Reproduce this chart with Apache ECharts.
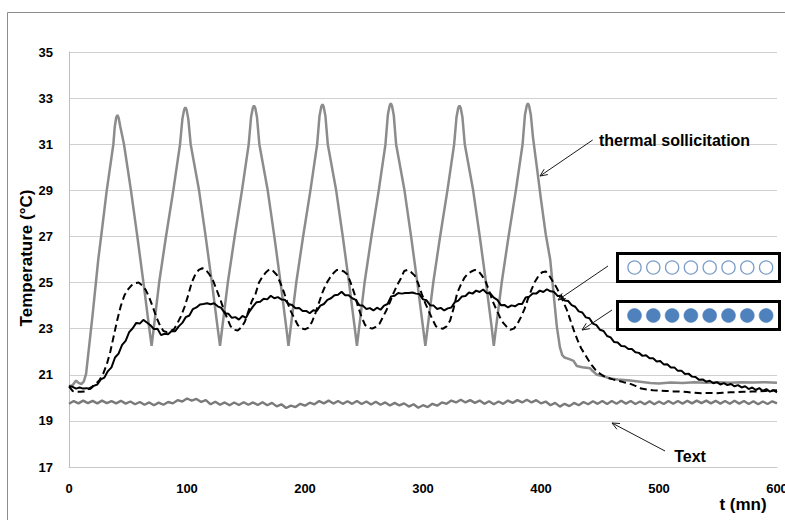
<!DOCTYPE html>
<html lang="en">
<head>
<meta charset="utf-8">
<title>Temperature</title>
<style>
    html, body { margin: 0; padding: 0; background: #fff; }
    #main { width: 785px; height: 520px; }
</style>
</head>
<body>
<div id="main"></div>
<script src="https://cdn.jsdelivr.net/npm/echarts@6/dist/echarts.min.js"></script>
<script>
var log = console.log.bind(console)

// [t (mn), temperature (°C)]
var thermal = [
    [0, 20.5], [3, 20.55], [6, 20.75], [8, 20.65], [10.5, 20.6], [12.5, 20.7], [14.5, 21.05], [20, 23.6],
    [24.8, 26], [27, 26.9], [32, 29], [37.6, 31], [38.8, 31.76], [40, 32.16], [41, 32.26], [42, 32.16], [43.5, 31.76], [46.6, 31],
    [52.5, 29], [57.9, 27], [63.1, 25], [67.8, 23.1], [70, 22.25],
    [71.3, 22.8], [76.4, 25], [82.2, 27], [88.4, 29], [94.1, 31], [96.1, 32.1], [97.6, 32.5], [98.6, 32.6], [99.6, 32.5], [101.1, 32.1],
    [103.1, 31], [110.2, 29], [115.8, 27], [121.1, 25], [125.8, 23.1], [128, 22.25],
    [129.3, 22.8], [134.6, 25], [140.4, 27], [146.6, 29], [152.3, 31], [154.3, 32.18], [155.8, 32.58], [156.8, 32.68], [157.8, 32.58], [159.3, 32.18],
    [161.3, 31], [168.4, 29], [174, 27], [179.3, 25], [184, 23.1], [186, 22.25],
    [187.3, 22.8], [192.6, 25], [198.4, 27], [204.6, 29], [210.3, 31], [212.3, 32.23], [213.8, 32.63], [214.8, 32.73], [215.8, 32.63], [217.3, 32.23],
    [219.3, 31], [226.4, 29], [232, 27], [237.3, 25], [242, 23.1], [244, 22.25],
    [245.3, 22.8], [250.5, 25], [256.3, 27], [262.5, 29], [268.2, 31], [270.2, 32.27], [271.7, 32.67], [272.7, 32.77], [273.7, 32.67], [275.2, 32.27],
    [277.2, 31], [284.3, 29], [289.9, 27], [295.2, 25], [299.9, 23.1], [302, 22.25],
    [303.3, 22.8], [308.7, 25], [314.5, 27], [320.7, 29], [326.4, 31], [328.4, 32.18], [329.9, 32.58], [330.9, 32.68], [331.9, 32.58], [333.4, 32.18],
    [335.4, 31], [342.5, 29], [348.1, 27], [353.4, 25], [358.1, 23.1], [360, 22.25],
    [361.3, 22.8], [366.7, 25], [372.5, 27], [378.7, 29], [384.4, 31], [386.4, 32.27], [387.9, 32.67], [388.9, 32.77], [389.9, 32.67], [391.4, 32.27],
    [393.2, 31.3], [396, 30.2], [400, 28.6], [404, 27.1], [407.8, 26], [410.5, 24.6], [413.4, 23.1], [416, 22.2],
    [418, 21.85], [420, 21.75], [424, 21.68], [427.6, 21.6], [430.4, 21.38], [435, 21.33], [441.7, 21.28], [444, 21.15],
    [447.4, 21.0], [452, 20.95], [458.7, 20.84], [465, 20.8], [475.6, 20.75], [484, 20.7], [492.6, 20.64], [500, 20.62],
    [510, 20.66], [520, 20.64], [530, 20.68], [540, 20.65], [550, 20.68], [560, 20.65], [570, 20.68], [580, 20.66],
    [590, 20.68], [600, 20.65]
]

// open circles (solid line)
var openCircles = [
    [0, 20.5], [3, 20.48], [6, 20.4], [9, 20.45], [12, 20.4], [15, 20.42], [18, 20.38], [21, 20.52],
    [24, 20.58], [27, 20.8], [30, 20.88], [33, 21.16], [36, 21.32], [39, 21.75], [42, 21.92], [45, 22.3],
    [48, 22.47], [51, 22.85], [54, 23.02], [57, 23.25], [60, 23.22], [63, 23.38], [66, 23.27], [69, 23.15],
    [72, 22.98], [75, 23.0], [78, 22.72], [81, 22.78], [84, 22.76], [87, 22.9], [90, 22.89], [93, 23.1],
    [96, 23.25], [99, 23.5], [102, 23.57], [105, 23.85], [108, 23.92], [111, 24.05], [114, 24.07], [117, 24.1],
    [120, 24.06], [123, 24.1], [126, 23.97], [129, 23.9], [132, 23.67], [135, 23.65], [138, 23.47], [141, 23.5],
    [144, 23.39], [147, 23.55], [150, 23.47], [153, 23.75], [156, 23.97], [159, 24.15], [162, 24.17], [165, 24.3],
    [168, 24.27], [171, 24.43], [174, 24.32], [177, 24.37], [180, 24.27], [183, 24.25], [186, 24.07], [189, 24.03],
    [192, 23.89], [195, 23.9], [198, 23.77], [201, 23.77], [204, 23.67], [207, 23.8], [210, 23.77], [213, 24.0],
    [216, 24.07], [219, 24.25], [222, 24.32], [225, 24.45], [228, 24.47], [231, 24.6], [234, 24.45], [237, 24.45],
    [240, 24.32], [243, 24.25], [246, 24.02], [249, 24.0], [252, 23.85], [255, 23.89], [258, 23.79], [261, 23.91],
    [264, 23.82], [267, 24.0], [270, 24.07], [273, 24.4], [276, 24.43], [279, 24.55], [282, 24.52], [285, 24.55],
    [288, 24.55], [291, 24.57], [294, 24.52], [297, 24.5], [300, 24.27], [303, 24.23], [306, 24.02], [309, 24.0],
    [312, 23.85], [315, 23.9], [318, 23.79], [321, 23.88], [324, 23.92], [327, 24.15], [330, 24.22], [333, 24.4],
    [336, 24.42], [339, 24.57], [342, 24.52], [345, 24.65], [348, 24.59], [351, 24.7], [354, 24.55], [357, 24.53],
    [360, 24.35], [363, 24.25], [366, 24.02], [369, 24.03], [372, 23.92], [375, 24.01], [378, 23.97], [381, 24.07],
    [384, 24.07], [387, 24.35], [390, 24.39], [393, 24.53], [396, 24.52], [399, 24.65], [402, 24.59], [405, 24.71],
    [408, 24.62], [411, 24.6], [414, 24.42], [417, 24.43], [420, 24.22], [423, 24.2], [426, 24.02], [429, 23.95],
    [432, 23.75], [435, 23.7], [438, 23.49], [441, 23.45], [444, 23.22], [447, 23.15], [450, 22.95], [453, 22.9],
    [456, 22.68], [459, 22.62], [462, 22.42], [465, 22.4], [468, 22.25], [471, 22.24], [474, 22.12], [477, 22.12],
    [480, 21.98], [483, 21.95], [486, 21.82], [489, 21.85], [492, 21.72], [495, 21.72], [498, 21.58], [501, 21.6],
    [504, 21.45], [507, 21.46], [510, 21.32], [513, 21.32], [516, 21.17], [519, 21.18], [522, 21.03], [525, 21.05],
    [528, 20.92], [531, 20.9], [534, 20.78], [537, 20.8], [540, 20.7], [543, 20.74], [546, 20.63], [549, 20.68],
    [552, 20.58], [555, 20.64], [558, 20.55], [561, 20.6], [564, 20.5], [567, 20.55], [570, 20.45], [573, 20.5],
    [576, 20.38], [579, 20.45], [582, 20.34], [585, 20.42], [588, 20.3], [591, 20.38], [594, 20.27], [597, 20.33],
    [600, 20.24]
]

// filled circles (dashed line)
var filledCircles = [
    [0, 20.5], [3, 20.3], [6, 20.27], [10, 20.26], [14, 20.28], [17, 20.4], [20, 20.5], [23, 20.62],
    [26, 20.78], [29, 21.05], [32, 21.45], [35, 22.0], [38, 22.7], [41, 23.4], [44, 24.0], [47, 24.45],
    [50, 24.7], [53, 24.88], [56, 24.98], [59, 25.0], [62, 24.88], [65, 24.68], [68, 24.35], [71, 23.95],
    [74, 23.5], [77, 23.15], [80, 22.9], [83, 22.85], [86, 22.9], [89, 22.98], [92, 23.25], [95, 23.55],
    [98, 23.95], [101, 24.45], [104, 25.0], [107, 25.35], [110, 25.55], [113, 25.62], [116, 25.55], [119, 25.35],
    [122, 25.1], [125, 24.7], [128, 24.3], [131, 23.85], [134, 23.45], [137, 23.1], [140, 22.95], [143, 22.92],
    [146, 23.05], [149, 23.3], [152, 23.75], [155, 24.2], [158, 24.5], [161, 25.0], [164, 25.26], [167, 25.45],
    [170, 25.58], [173, 25.5], [176, 25.34], [179, 25.0], [182, 24.6], [185, 24.15], [188, 23.75], [191, 23.45],
    [194, 23.15], [197, 23.02], [200, 22.97], [203, 23.05], [206, 23.3], [209, 23.7], [212, 24.15], [215, 24.6],
    [218, 24.95], [221, 25.2], [224, 25.4], [227, 25.55], [230, 25.55], [233, 25.48], [236, 25.35], [239, 24.95],
    [242, 24.5], [245, 23.95], [248, 23.5], [251, 23.15], [254, 23.05], [257, 23.0], [260, 23.08], [263, 23.2],
    [266, 23.5], [269, 23.8], [272, 24.15], [275, 24.54], [278, 24.88], [281, 25.15], [284, 25.5], [287, 25.55],
    [290, 25.45], [293, 25.3], [296, 24.95], [299, 24.5], [302, 24.1], [305, 23.75], [308, 23.4], [311, 23.1],
    [314, 23.02], [317, 23.0], [320, 23.1], [323, 23.35], [326, 23.9], [329, 24.55], [332, 24.9], [335, 25.2],
    [338, 25.38], [341, 25.48], [344, 25.55], [347, 25.5], [350, 25.3], [353, 25.05], [356, 24.65], [359, 24.2],
    [362, 23.85], [365, 23.52], [368, 23.25], [371, 23.08], [374, 22.95], [377, 23.0], [380, 23.2], [383, 23.5],
    [386, 23.85], [389, 24.3], [392, 24.7], [395, 25.05], [398, 25.3], [401, 25.45], [404, 25.48], [407, 25.3],
    [410, 25.05], [413, 24.8], [416, 24.5], [419, 24.15], [422, 23.8], [425, 23.35], [428, 22.9], [431, 22.5],
    [434, 22.15], [437, 21.9], [440, 21.65], [443, 21.42], [446, 21.22], [449, 21.08], [452, 20.98], [455, 20.9],
    [458, 20.85], [461, 20.8], [465, 20.75], [470, 20.68], [475, 20.62], [480, 20.52], [485, 20.4], [490, 20.36],
    [495, 20.33], [500, 20.32], [506, 20.3], [512, 20.28], [518, 20.27], [524, 20.25], [530, 20.22], [536, 20.2],
    [542, 20.21], [548, 20.2], [554, 20.22], [560, 20.24], [566, 20.25], [572, 20.26], [578, 20.27], [584, 20.28],
    [590, 20.3], [596, 20.32], [600, 20.33]
]

// "Text" series, one reading every 4 mn
var textStep = 4
var textTemp = [
    19.74, 19.86, 19.76, 19.88, 19.77, 19.87, 19.76, 19.88, 19.77, 19.86,
    19.76, 19.87, 19.75, 19.84, 19.72, 19.82, 19.70, 19.80, 19.68, 19.79,
    19.70, 19.82, 19.76, 19.90, 19.84, 19.97, 19.88, 19.95, 19.82, 19.90,
    19.72, 19.83, 19.70, 19.80, 19.68, 19.80, 19.69, 19.81, 19.70, 19.80,
    19.69, 19.81, 19.68, 19.78, 19.63, 19.72, 19.56, 19.66, 19.60, 19.74,
    19.66, 19.79, 19.72, 19.86, 19.76, 19.88, 19.75, 19.86, 19.74, 19.85,
    19.74, 19.86, 19.73, 19.84, 19.71, 19.83, 19.70, 19.80, 19.67, 19.78,
    19.67, 19.76, 19.62, 19.72, 19.57, 19.68, 19.60, 19.74, 19.66, 19.80,
    19.74, 19.88, 19.80, 19.92, 19.80, 19.90, 19.78, 19.88, 19.74, 19.85,
    19.72, 19.84, 19.74, 19.88, 19.78, 19.90, 19.80, 19.92, 19.80, 19.90,
    19.76, 19.84, 19.68, 19.78, 19.62, 19.74, 19.64, 19.78, 19.68, 19.82,
    19.72, 19.85, 19.74, 19.86, 19.73, 19.86, 19.74, 19.87, 19.75, 19.86,
    19.73, 19.84, 19.72, 19.85, 19.72, 19.84, 19.73, 19.86, 19.74, 19.86,
    19.75, 19.87, 19.76, 19.88, 19.77, 19.88, 19.76, 19.87, 19.75, 19.86,
    19.74, 19.87, 19.75, 19.86, 19.73, 19.85, 19.72, 19.84, 19.73, 19.85,
    19.76
]

var yTicks = { min: 17, max: 35, interval: 2 }
var xTicks = { min: 0, max: 600, interval: 100 }

var font = 'Liberation Sans, Arial, sans-serif'

var arrow = (x1, y1, x2, y2) => {
    var a = Math.atan2(y2 - y1, x2 - x1)
    var h = 8
    var w = 0.42
    var p1 = [x2 - h * Math.cos(a - w), y2 - h * Math.sin(a - w)]
    var p2 = [x2 - h * Math.cos(a + w), y2 - h * Math.sin(a + w)]
    return [
        { type: 'line', shape: { x1: x1, y1: y1, x2: x2, y2: y2 }, style: { stroke: '#1a1a1a', lineWidth: 1 }, z: 100 },
        { type: 'polyline', shape: { points: [p1, [x2, y2], p2] }, style: { stroke: '#1a1a1a', fill: 'none', lineWidth: 1 }, z: 100 },
    ]
}

var legendBox = (y, filled) => {
    var l = [{
        type: 'rect',
        shape: { x: 617.5, y: y, width: 162, height: 28 },
        style: { fill: '#fff', stroke: '#000', lineWidth: 3 },
        z: 100,
    }]
    for (var i = 0; i < 8; i++) {
        l.push({
            type: 'circle',
            shape: { cx: 634.5 + i * 18.8, cy: y + 14, r: filled ? 7 : 6.6 },
            style: filled
                ? { fill: '#4f81bd', stroke: '#4f81bd', lineWidth: 0.5 }
                : { fill: '#fff', stroke: '#7a9cc8', lineWidth: 1.3 },
            z: 101,
        })
    }
    return l
}

var label = (text, x, y, size, align) => ({
    type: 'text',
    x: x,
    y: y,
    style: {
        text: text,
        fill: '#000',
        font: 'bold ' + size + 'px ' + font,
        textAlign: align || 'left',
        textVerticalAlign: 'middle',
    },
    z: 100,
})

var showChart = () => {
    var element = document.querySelector('#main')
    var myChart = echarts.init(element, null, { renderer: 'svg' })

    var textData = textTemp.map((v, i) => [i * textStep, v])

    var graphics = [
        {
            type: 'rect',
            shape: { x: 7.5, y: 12.5, width: 800, height: 540 },
            style: { fill: 'none', stroke: '#8c8c8c', lineWidth: 1 },
            z: 0,
        },
        {
            type: 'text',
            x: 26,
            y: 258,
            rotation: Math.PI / 2,
            style: {
                text: 'Temperature (°C)',
                fill: '#000',
                font: 'bold 17px ' + font,
                textAlign: 'center',
                textVerticalAlign: 'middle',
            },
            z: 100,
        },
        label('t (mn)', 743, 504, 17, 'center'),
        label('thermal sollicitation', 599, 140, 16),
        label('Text', 690, 456, 16, 'center'),
    ]
    graphics = graphics.concat(arrow(592.7, 140, 540, 176))
    graphics = graphics.concat(arrow(608, 266, 558, 300))
    graphics = graphics.concat(arrow(612, 310, 582, 330))
    graphics = graphics.concat(arrow(665, 451, 612, 423))
    graphics = graphics.concat(legendBox(253.5, false))
    graphics = graphics.concat(legendBox(301.5, true))

    var option = {
        animation: false,
        backgroundColor: '#fff',
        grid: {
            left: 69,
            right: 8,
            top: 52,
            bottom: 53,
            containLabel: false,
            outerBoundsMode: 'none',
        },
        xAxis: {
            type: 'value',
            min: xTicks.min,
            max: xTicks.max,
            interval: xTicks.interval,
            axisLine: { show: true, lineStyle: { color: '#c8c8c8', width: 1 } },
            axisTick: { show: false },
            splitLine: { show: false },
            axisLabel: {
                margin: 15,
                color: '#000',
                fontFamily: font,
                fontWeight: 'bold',
                fontSize: 13,
                showMaxLabel: true,
                showMinLabel: true,
            },
        },
        yAxis: {
            type: 'value',
            min: yTicks.min,
            max: yTicks.max,
            interval: yTicks.interval,
            axisLine: { show: true, lineStyle: { color: '#bdbdbd', width: 1 } },
            axisTick: { show: false },
            splitLine: { show: true, lineStyle: { color: '#d0d0d0', width: 1 } },
            axisLabel: {
                margin: 16,
                color: '#000',
                fontFamily: font,
                fontWeight: 'bold',
                fontSize: 13,
            },
        },
        series: [
            {
                name: 'thermal sollicitation',
                type: 'line',
                data: thermal,
                symbol: 'none',
                lineStyle: { color: '#8c8c8c', width: 2.5 },
                z: 2,
            },
            {
                name: 'Text',
                type: 'line',
                data: textData,
                symbol: 'none',
                lineStyle: { color: '#7a7a7a', width: 2.4 },
                z: 2,
            },
            {
                name: 'filled circles',
                type: 'line',
                data: filledCircles,
                symbol: 'none',
                lineStyle: { color: '#000', width: 2, type: [7, 4] },
                z: 3,
            },
            {
                name: 'open circles',
                type: 'line',
                data: openCircles,
                symbol: 'none',
                lineStyle: { color: '#000', width: 2 },
                z: 4,
            },
        ],
        graphic: graphics,
    }
    myChart.setOption(option, true)
}

var __main = () => {
    showChart()
}

__main()
</script>
</body>
</html>
